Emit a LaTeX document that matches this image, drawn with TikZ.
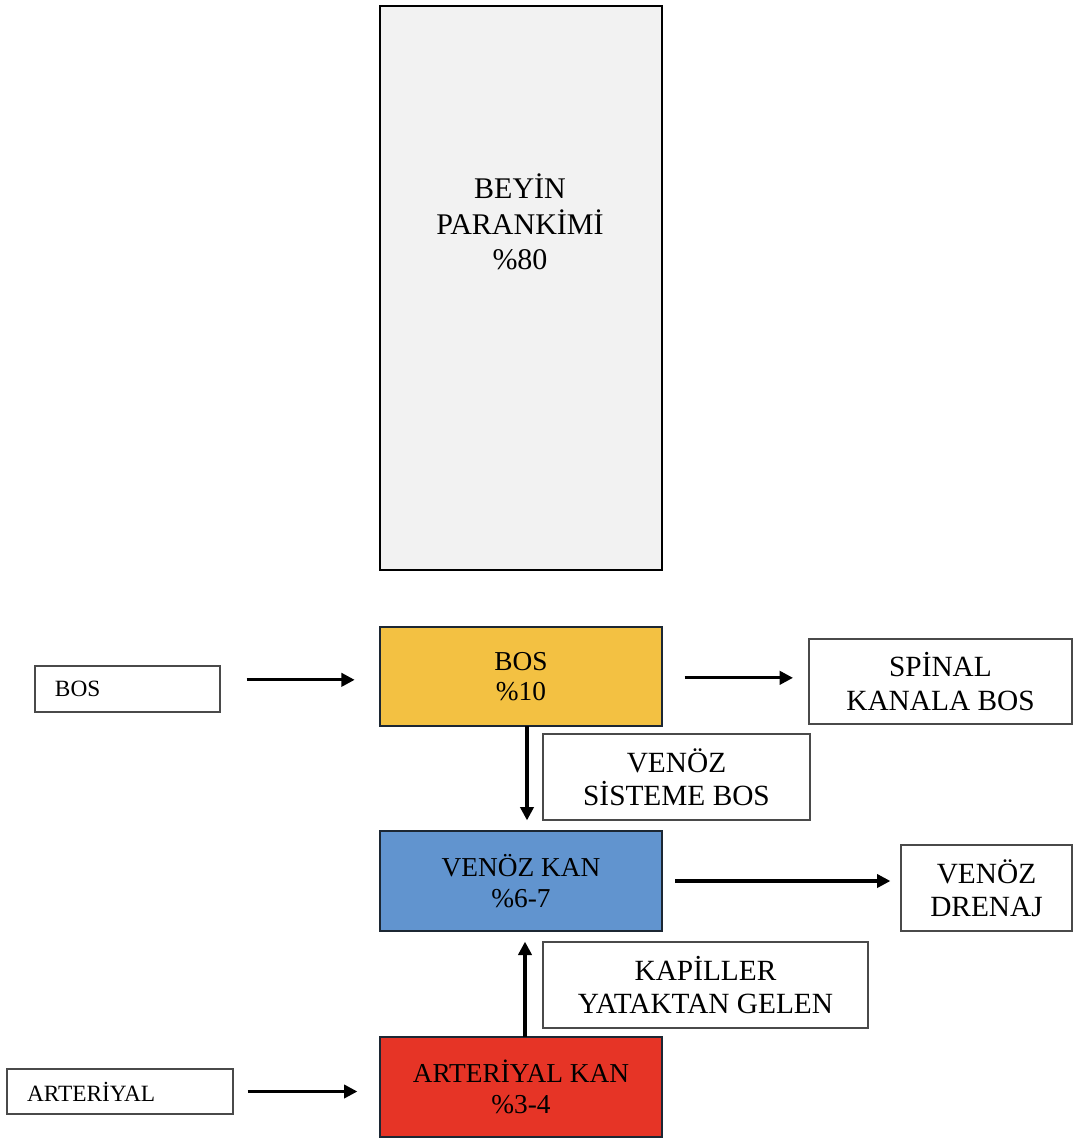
\documentclass[tikz,border=0pt]{standalone}
\usepackage{fontspec}
\setmainfont{Liberation Serif}
\usepackage{xcolor}
\usetikzlibrary{arrows.meta}

\definecolor{brainfill}{HTML}{F2F2F2}
\definecolor{bosfill}{HTML}{F3C142}
\definecolor{venfill}{HTML}{6194CF}
\definecolor{artfill}{HTML}{E63426}
\definecolor{edgenavy}{HTML}{1C2733}
\definecolor{noteedge}{HTML}{4A4A4A}

\tikzset{
  mainbox/.style={draw=edgenavy, line width=2pt, inner sep=0pt, outer sep=0pt,
    minimum width=211.5pt, align=center, font=\fontsize{20.5}{23}\selectfont},
  notebox/.style={draw=noteedge, line width=0.8pt, inner sep=0pt, outer sep=0pt,
    fill=white, align=center, font=\fontsize{22}{25}\selectfont},
  inbox/.style={draw=noteedge, line width=0.8pt, inner xsep=15pt, inner ysep=0pt,
    outer sep=0pt, align=left, font=\fontsize{17.5}{20}\selectfont},
  arr/.style={line width=2.3pt, -{Triangle[length=10pt,width=10pt]}}
}

\begin{document}
\begin{tikzpicture}[x=0.75pt,y=0.75pt,yscale=-1,xscale=1]
        \useasboundingbox (0,0) rectangle (1073,1140);
        
        %Shape: Brain
        \node [draw=black, line width=2pt, fill=brainfill, inner sep=0pt, minimum width=211.5pt, minimum height=423pt] (brain) at (521,288) {};
        % Text Node
        \node [align=center, inner sep=0pt, font=\fontsize{22.5}{26.5}\selectfont] (brainlbl) at (520,222) {BEYİN\\PARANKİMİ\\\%80};
        
        %Shape: main boxes
        \node [mainbox, fill=bosfill, minimum height=74.25pt] (bos) at (521,676.5) {BOS\\\%10};
        \node [mainbox, fill=venfill, minimum height=75pt] (ven) at (521,881) {VENÖZ KAN\\\%6-7};
        \node [mainbox, fill=artfill, minimum height=75pt] (art) at (521,1087) {ARTERİYAL KAN\\\%3-4};
        
        %Shape: inputs
        \node [inbox, text width=108.75pt, minimum height=34.5pt] (bosin) at (127.5,689) {BOS};
        \node [inbox, text width=139.5pt, minimum height=33.75pt] (artin) at (120,1091.5) {ARTERİYAL};
        
        %Shape: notes
        \node [notebox, minimum width=197.25pt, minimum height=63.75pt] (spinal) at (940.5,681.5) {SPİNAL\\KANALA BOS};
        \node [notebox, minimum width=200.25pt, minimum height=64.5pt] (sisteme) at (676.5,777) {VENÖZ\\SİSTEME BOS};
        \node [notebox, minimum width=128.25pt, minimum height=64.5pt] (drenaj) at (986.5,888) {VENÖZ\\DRENAJ};
        \node [notebox, minimum width=243.75pt, minimum height=64.5pt] (kapiller) at (705.5,985) {KAPİLLER\\YATAKTAN GELEN};
        
        % Arrows
        \draw [arr, shorten <=20pt, shorten >=19pt] ([yshift=2.5pt]bosin.east |- bos.west) -- ([yshift=2.5pt]bos.west);
        \draw [arr, shorten <=11pt, shorten >=17pt] (artin.east) -- (artin.east -| art.west);
        \draw [arr, shorten <=17pt, shorten >=12pt] ([yshift=1pt]bos.east) -- ([yshift=1pt]bos.east -| spinal.west);
        \draw [arr, shorten <=10pt, shorten >=8pt] (ven.east) -- (ven.east -| drenaj.west);
        \draw [arr, shorten >=8pt] ([xshift=4.5pt]bos.south) -- ([xshift=4.5pt]ven.north);
        \draw [arr, shorten >=8pt] ([xshift=3pt]art.north) -- ([xshift=3pt]ven.south);
        
\end{tikzpicture}
\end{document}
